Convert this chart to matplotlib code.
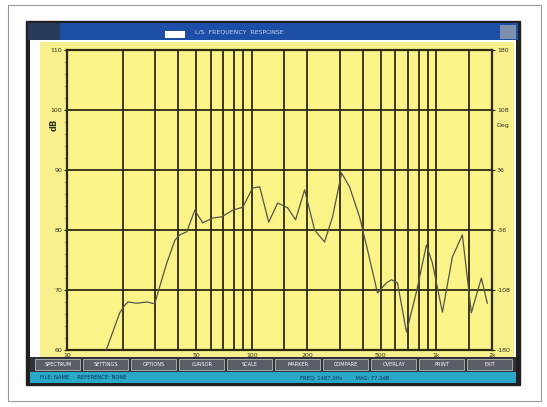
import numpy as np
import matplotlib
matplotlib.use("Agg")
import matplotlib.pyplot as plt
from matplotlib.patches import Rectangle
from matplotlib.ticker import FixedLocator, NullFormatter

# frequency response trace
freq_hz = [16.3, 19.3, 20.6, 21.4, 23.9, 27.1, 29.9, 31.0, 34.7, 38.4, 40.8, 44.5,
           49.2, 54.3, 61.5, 68.8, 79.0, 89.4, 101.2, 110.5, 123.6, 138.2, 156.5,
           172.9, 193.4, 219.0, 248.1, 274.1, 306.6, 338.6, 383.5, 423.6, 479.8,
           536.7, 571.2, 615.5, 688.5, 779.9, 883.0, 951.5, 1078, 1221, 1382,
           1546, 1751, 1887]
level_db = [60.0, 66.2, 67.5, 68.0, 67.8, 68.0, 67.7, 69.5, 74.5, 78.3, 79.2, 79.7,
            83.3, 81.2, 82.0, 82.2, 83.3, 83.8, 87.0, 87.2, 81.3, 84.5, 83.7,
            81.7, 86.7, 80.0, 78.0, 82.2, 89.5, 87.2, 82.2, 76.7, 69.5,
            71.2, 71.7, 71.2, 63.0, 69.7, 77.5, 74.5, 66.3, 75.5, 79.2,
            66.2, 72.0, 67.8]

db_ticks = [60, 70, 80, 90, 100, 110]
deg_ticks = [-180, -108, -36, 36, 108, 180]
deg_labels = ["-180", "-108", "-36", "36", "108", "180"]
x_tick_pos = [10, 50, 100, 200, 500, 1000, 2000]
x_tick_lab = ["10", "50", "100", "200", "500", "1k", "2k"]
grid_freqs = [20, 30, 40, 50, 60, 70, 80, 90, 100, 150, 200, 300, 400, 500, 600,
              700, 800, 900, 1000, 1500]
buttons = ["SPECTRUM", "SETTINGS", "OPTIONS", "CURSOR", "SCALE", "MARKER",
           "COMPARE", "OVERLAY", "PRINT", "EXIT"]

W, H = 547, 407
fig = plt.figure(figsize=(W / 100, H / 100), dpi=100)
fig.patch.set_facecolor("white")


def box(x0, y0, x1, y1, **kw):
    # rectangle in pixel coords (origin top-left), kept behind the axes
    r = Rectangle((x0 / W, 1 - y1 / H), (x1 - x0) / W, (y1 - y0) / H,
                  transform=fig.transFigure, zorder=-5, **kw)
    fig.patches.append(r)
    return r


def label(x, y, s, **kw):
    fig.text(x / W, 1 - y / H, s, **kw)


# scanned page border and window frame
box(8, 5, 541, 401, facecolor="none", edgecolor="#9a9a9a", lw=0.8)
box(26, 21, 520, 385, facecolor="#202020", edgecolor="#202020", lw=1)
box(28, 23, 518, 40, facecolor="#1d4fa6", edgecolor="none")
box(28, 23, 60, 40, facecolor="#2a3a5a", edgecolor="none")
box(165, 31, 185, 38, facecolor="white", edgecolor="none")
box(500, 25, 516, 39, facecolor="#7f8fb0", edgecolor="none")
label(195, 31.5, "L/S  FREQUENCY  RESPONSE", fontsize=4.5, color="#c8d4f0",
      va="center", ha="left")
box(30, 40, 516, 357, facecolor="white", edgecolor="none")
box(40, 42, 514, 357, facecolor="#f8f08c", edgecolor="none")

# bottom button row and status bar
box(30, 357, 516, 372, facecolor="#303238", edgecolor="none")
bw = (514 - 34) / len(buttons)
for i, b in enumerate(buttons):
    x0 = 34 + i * bw
    box(x0 + 1, 359, x0 + bw - 2, 370, facecolor="#5a5e66", edgecolor="#d0d0d0", lw=0.5)
    label(x0 + bw / 2, 364.5, b, fontsize=3.6, color="white", ha="center", va="center")
box(30, 372, 516, 383, facecolor="#29a8c9", edgecolor="none")
label(40, 377.5, "FILE: NAME     REFERENCE: NONE", fontsize=3.8, color="#103050",
      va="center")
label(300, 377.5, "FREQ: 1487.0Hz        MAG: 77.3dB", fontsize=3.8, color="#103050",
      va="center")

# plot area
ax = fig.add_axes([67 / W, 1 - 350 / H, (492 - 67) / W, 300 / H])
ax.set_facecolor("#faf388")
ax.set_xscale("log")
ax.set_xlim(10, 2000)
ax.set_ylim(60, 110)

gcol = "#2e2a10"
for f in grid_freqs:
    ax.axvline(f, color=gcol, lw=1.3, zorder=1)
for d in db_ticks[1:-1]:
    ax.axhline(d, color=gcol, lw=1.3, zorder=1)

ax.plot(freq_hz, level_db, color="#55554d", lw=0.9, zorder=3)

for s in ax.spines.values():
    s.set_color(gcol)
    s.set_linewidth(1.6)

ax.xaxis.set_major_locator(FixedLocator(x_tick_pos))
ax.set_xticklabels(x_tick_lab)
ax.xaxis.set_minor_formatter(NullFormatter())
ax.tick_params(axis="x", which="both", length=0, labelsize=4.5, pad=2,
               labelcolor="#303020")
ax.set_yticks(db_ticks)
ax.set_yticks(np.arange(60, 111, 2), minor=True)
ax.tick_params(axis="y", which="major", length=2, labelsize=4.5, pad=1.5,
               labelcolor="#303020", color=gcol)
ax.tick_params(axis="y", which="minor", length=1.2, color=gcol)

ax2 = ax.twinx()
ax2.set_ylim(-180, 180)
ax2.set_yticks(deg_ticks)
ax2.set_yticklabels(deg_labels)
ax2.tick_params(axis="y", length=2, labelsize=4.5, pad=1.5, labelcolor="#303020",
                color=gcol)
for s in ax2.spines.values():
    s.set_visible(False)

label(54, 125, "dB", fontsize=6, fontweight="bold", rotation=90, color="#303020",
      ha="center", va="center")
label(496, 126, "Deg", fontsize=4.5, color="#303020", ha="left", va="center")

fig.savefig("out.png", dpi=100, facecolor=fig.get_facecolor())
